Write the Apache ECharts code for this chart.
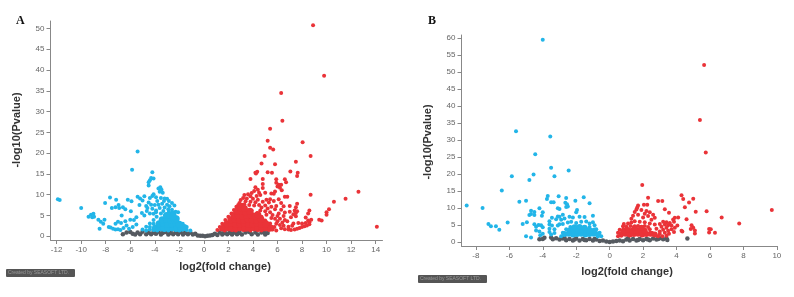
<!DOCTYPE html>
<html><head><meta charset="utf-8">
<style>html,body{margin:0;padding:0;background:#fff}#c{width:794px;height:297px;filter:blur(0.45px)}</style>
<script src="https://cdn.jsdelivr.net/npm/echarts@6/dist/echarts.min.js"></script>
</head><body><div id="c"></div>
<script>
const xTicksA=[-12,-10,-8,-6,-4,-2,0,2,4,6,8,10,12,14];
const yTicksA=[0,5,10,15,20,25,30,35,40,45,50];
const xTicksB=[-8,-6,-4,-2,0,2,4,6,8,10];
const yTicksB=[0,5,10,15,20,25,30,35,40,45,50,55,60];
const xName='log2(fold change)', yName='-log10(Pvalue)';

const aRed=[[8.9,50.8],[9.8,38.6],[6.3,34.5],[6.4,27.8],[5.4,25.9],[5.2,23],[8.05,22.6],[5.4,21.3],[5.65,20.9],[8.7,19.3],[4.95,19.3],[7.5,17.9],[4.7,17.5],[5.8,17.3],[7.05,15.6],[7.65,15.3],[5.2,15.4],[5.55,15.3],[4.2,15.3],[4.35,15.5],[4.25,15.1],[7.6,14.5],[4.8,13.8],[3.8,13.8],[5.9,13.7],[6.6,13.7],[6.7,13],[5.9,12.9],[4.8,12.6],[6.1,12.4],[6.3,12.4],[6,12],[6.2,11.7],[4.8,11.6],[6.35,11.1],[5,10.5],[12.6,10.7],[8.7,10],[5.5,10.3],[10.6,8.3],[11.55,9],[6.6,9.5],[6.8,9.5],[5.8,10.8],[5.7,10.2],[4.2,11.8],[4.4,11.2],[4.1,10.9],[4.5,10.5],[3.9,10.4],[3.6,10.1],[3.3,9.9],[3.8,9.6],[4.3,9.7],[4.6,9.9],[3.2,9.2],[3.5,9.1],[4,9],[4.4,8.8],[5.1,8.8],[5.4,8.9],[5.7,8.5],[6.1,8.9],[3,8.7],[3.4,8.4],[3.8,8.3],[4.2,8.2],[4.8,8.3],[5.3,8.1],[6.3,8],[7.6,7.8],[7.5,7],[7,7.3],[2.9,8],[3.3,7.7],[3.7,7.5],[4.1,7.4],[4.5,7.5],[5,7.4],[5.5,7.1],[5.9,7.3],[6.5,7.2],[4.7,6.9],[5.2,6.7],[5.8,6.5],[6.3,6.4],[7.4,6.2],[7.6,6],[8.6,6.2],[8.5,5.5],[10.2,6.5],[10,5.8],[10,5.2],[4.6,6.2],[5,6],[5.4,5.8],[6.1,5.5],[6.6,5.7],[7,5.9],[7.3,5.3],[7.5,5.6],[5.1,5.2],[5.6,5.1],[6,4.9],[6.5,4.9],[7.1,4.6],[7.5,4.8],[8.3,4.5],[5.5,4.4],[5.8,4.2],[6.2,4.2],[6.6,3.9],[6,3.6],[6.4,3.3],[6.8,3.6],[7.3,3.1],[7.7,3.2],[8,3.1],[8.3,3.2],[8.6,3.4],[8.75,4],[8.5,3.8],[9.4,4],[9.6,3.8],[14.1,2.3],[5.9,3],[6.2,2.7],[6.5,2.5],[6.9,2.3],[6.3,1.9],[6.6,1.7],[6.9,1.6],[7.1,1.5],[7.4,1.6],[7.6,1.8],[7.8,2],[8,2.2],[8.2,2.4],[8.4,2.6],[8.6,2.9],[7.2,2.5],
[1.1,1.5],[1.4,1.6],[1.7,1.4],[2,1.6],[2.3,1.5],[2.6,1.4],[2.9,1.6],[3.2,1.5],[3.5,1.6],[3.8,1.4],[4.1,1.6],[4.4,1.5],[4.7,1.4],[5,1.6],[5.3,1.5],[5.6,1.6],[5.9,1.4],
[1.3,2.2],[5.75,2.2],[1.5,3],[5.4,3.1],[1.75,3.9],[5,3.8],[2,4.7],[4.7,4.7],[2.25,5.5],[4.35,5.6],[2.45,6.3],[3.9,6.2],[2.65,7.1],[2.95,7.2],[3.3,7],[3.1,7.6],[2.8,7.5]];
const aRedCore=[[1.6,2],[1.95,2.1],[2.3,1.9],[2.65,2],[3,2.1],[3.35,1.9],[3.7,2],[4.05,2.1],[4.4,1.9],[4.75,2],[5.1,2.1],[5.45,2],
[1.9,3],[2.25,3.1],[2.6,2.9],[2.95,3],[3.3,3.1],[3.65,2.9],[4,3],[4.35,3.1],[4.7,2.9],[5.05,3],
[2.2,4],[2.55,4.1],[2.9,3.9],[3.25,4],[3.6,4.1],[3.95,3.9],[4.3,4],[4.65,4.1],
[2.45,5],[2.8,5.1],[3.15,4.9],[3.5,5],[3.85,5.1],[4.2,4.9],[4.4,5.2],
[2.7,6],[3.05,6.1],[3.4,5.9],[3.75,6],[3,6.8],[3.3,6.7]];

const aBlue=[[-5.4,20.4],[-5.85,16],[-4.2,15.4],[-4.3,14],[-4.1,13.9],[-4.4,13.5],[-4.5,13],[-4.5,12.2],[-11.9,8.9],[-11.75,8.7],[-10,6.8],[-9.4,4.7],[-9.2,5.2],[-9.1,4.6],[-9,5.4],[-8.95,4.7],[-8.6,4],[-8.4,3.5],[-8.2,3],[-8.1,4],[-8.5,1.8],[-8.05,8],[-7.65,9.3],[-7.15,8.8],[-7.5,6.8],[-7.2,7],[-6.95,7.5],[-6.9,6.8],[-6.6,7],[-6.4,6.5],[-6.2,8.8],[-5.9,8.4],[-5.95,6],[-6.7,5],[-7,3.5],[-7.2,3],[-6.75,3.2],[-6.4,3.6],[-6,4],[-5.7,3.9],[-5.5,4.6],[-7.75,2.2],[-7.6,2.1],[-7.4,1.8],[-7.2,1.6],[-7,1.7],[-6.8,1.5],[-6.55,2],[-6.3,2.6],[-6.1,1.8],[-5.8,2.2],[-5.5,2.8],[-5.4,9.5],[-5.2,9.1],[-5,8.6],[-4.85,9.6],[-5.25,7.5],[-4.7,7.3],[-4.65,6.1],[-5.05,5.6],[-4.85,5],[-4.1,10.1],[-4.2,9.7],[-3.9,9.4],[-3.7,11.5],[-3.55,11.8],[-3.45,11.2],[-3.6,10.7],[-3.35,10.5],[-3.8,8.5],[-3.5,9.2],[-3.2,9.1],[-3,9],[-3.25,8.5],[-2.85,8.5],[-2.6,8],[-2.4,7.4],[-4.4,9.2],[-4.5,8.1],[-4.3,7.6],[-4,7.5],[-3.7,7.6],[-3.4,7.8],[-3,7.6],[-2.8,7.2],[-4.6,6.8],[-4.2,6.6],[-3.9,6.2],[-3.6,6.8],[-3.2,6.9],[-2.9,6.5],[-2.6,6.4],[-4.4,5.5],[-4.1,5.4],[-3.9,5.8],[-2.1,5.8],[-2.3,5.9],
[-5,1.6],[-4.7,1.4],[-4.4,1.6],[-4.1,1.5],[-3.8,1.4],[-3.5,1.6],[-3.2,1.5],[-2.9,1.4],[-2.6,1.6],[-2.3,1.5],[-2,1.4],[-1.7,1.6],[-1.4,1.5],[-1.1,1.4],
[-4.7,2.3],[-4.4,2.2],[-1.4,2.2],[-4.4,3.1],[-4.1,3],[-1.72,3],[-4.1,3.9],[-3.85,4.7],[-3.5,5.5],[-2.42,5.5],[-3.3,6.1],[-2.85,5.9],[-2.55,5.8]];
const aBlueCore=[[-3.95,2],[-3.6,2.1],[-3.25,1.9],[-2.9,2],[-2.55,2.1],[-2.2,1.9],[-1.85,2],[-1.6,2.1],
[-3.65,3],[-3.3,3.1],[-2.95,2.9],[-2.6,3],[-2.25,3.1],[-2,2.9],
[-3.4,4],[-3.05,4.1],[-2.7,3.9],[-2.4,4],[-2.25,4.2],
[-3.05,5],[-2.75,5.1],[-2.5,4.9]];

const aGrey=[[-6.6,0.5],[-6.3,0.9],[-6,1],[-5.8,0.6],[-5.6,0.4],[-5.4,0.9],[-5.2,0.5],[-5,1.1],[-4.7,0.5],[-4.5,0.9],[-4.3,0.5],[-4.1,1.1],[-3.9,0.6],[-3.7,1.1],[-3.5,0.4],[-3.3,0.9],[-3.1,1],[-2.9,0.4],[-2.7,1],[-2.5,0.5],[-2.3,1.1],[-2.1,0.5],[-1.9,1],[-1.7,0.4],[-1.5,0.9],[-1.3,0.5],[-1.1,0.9],[-0.9,0.4],[-0.7,0.6],[-0.5,0.2],[-0.3,0.1],[-0.1,0.1],[0.1,0],[0.3,0.1],[0.5,0.2],[0.7,0.3],[0.9,0.6],[1.1,0.3],[1.3,0.9],[1.5,0.4],[1.7,1],[1.9,0.5],[2.1,1],[2.3,0.4],[2.5,0.9],[2.7,0.5],[2.9,1],[3.1,0.4],[3.4,0.9],[3.7,1],[3.9,0.5],[4.2,0.9],[4.4,0.4],[4.7,0.9],[5,0.4],[5.2,0.8],[-4,0.8],[-3.4,0.7],[-2.8,0.7],[-2.2,0.8],[-1.6,0.7],[1.6,0.7],[2.2,0.7],[2.8,0.7],[4.9,1]];

const bRed=[[5.65,52.1],[5.4,35.9],[5.75,26.4],[1.95,16.8],[4.3,13.8],[4.4,12.7],[5,12.8],[4.75,11.7],[2.3,13.1],[2.05,11],[2.25,11],[2.9,12.1],[3.15,12.1],[4.5,10.3],[3.3,9.7],[3.55,8.7],[5.15,9],[5.8,9.1],[9.7,9.5],[6.7,7.3],[7.75,5.5],[4.1,7.3],[3.9,7.2],[3.8,6.7],[4.6,6.8],[3.85,6],[4.9,5],[5,4.3],[4.85,3.9],[4.3,3.4],[4.35,3.2],[5.1,3.5],[5.1,2.6],[5.95,3.9],[6.05,3.8],[5.95,2.9],[6.3,2.8],[1.7,10.8],[1.65,10.2],[1.6,9.6],[1.9,9.5],[2.2,9.2],[2.4,8.8],[1.5,8.9],[1.7,8.1],[1.4,7.8],[2.1,8.4],[2.6,8.1],[2.3,7.7],[2.7,7.2],[2,7.3],[1.3,6.9],[2.5,6.6],[3.2,6],[3.4,5.9],[3.6,5.7],[3,5.4],[3.3,5.2],[3.5,5],[3.7,4.9],[3.9,4.3],[4.05,4.9],[3.1,4.6],[3.4,4.3],[3.7,3.8],[3.2,3.7],[3.5,3.4],[3,3.2],[3.3,2.8],[3.55,2.5],[3.85,3],[1.5,6.2],[1.8,6],[2.1,5.9],[2.4,5.5],[1.1,5.5],[0.85,5.4],[1.3,5.8],[2.7,5.2],[2.8,4],[3,2.4],
[0.5,1.8],[0.7,1.9],[2.9,1.8],[3.15,1.8],[3.4,1.9],[0.5,2.8],[2.55,2.7],[0.6,3.7],[2.4,3.8],[0.8,4.7],[1,4.6],[1.25,4.8],[1.5,4.7],[1.7,4.8],[1.9,4.6],[2.1,4.8],[2.3,4.5]];
const bRedCore=[[0.7,2.4],[0.95,2.5],[1.2,2.3],[1.45,2.4],[1.7,2.5],[1.95,2.3],[2.2,2.4],[2.45,2.5],[2.7,2.3],
[0.85,3.5],[1.1,3.6],[1.35,3.4],[1.6,3.5],[1.85,3.6],[2.1,3.4],[1.5,4.3],[1.9,4.2]];

const bBlue=[[-4,59.5],[-5.6,32.6],[-3.55,31.1],[-4.45,25.9],[-3.5,21.9],[-2.45,21.1],[-4.55,19.9],[-5.85,19.4],[-3.3,19.4],[-4.8,18.3],[-6.45,15.2],[-8.55,10.8],[-7.6,10.1],[-7.25,5.4],[-7.1,4.7],[-6.8,4.7],[-6.6,3.7],[-6.1,5.8],[-5.4,11.9],[-5,12.2],[-5.2,5.4],[-4.95,5.9],[-5,1.8],[-4.7,1.4],[-3.7,13.6],[-3.05,13.5],[-2.6,13],[-1.55,13.2],[-3.75,12.7],[-3.5,11.8],[-3.35,11.8],[-3.1,10],[-2.65,11.6],[-2.05,12.2],[-1.2,11.5],[-2.55,11.2],[-2.6,10.4],[-2.5,10.5],[-4.2,10],[-3,9.8],[-1.95,9.5],[-2,8.8],[-4.7,9.3],[-4.5,8.9],[-4.7,8.3],[-4.8,8],[-4.5,8],[-4,8.8],[-4.05,7.8],[-2.8,8.1],[-3.1,7.6],[-3,7.5],[-3.45,7.2],[-3.2,6.8],[-2.4,7.5],[-2.2,7.3],[-1.5,7.4],[-1,7.8],[-1.8,7.5],[-2.7,7],[-2.9,6.6],[-3.6,6.2],[-4.5,5.3],[-4.25,5.1],[-4.1,5],[-4.4,4.6],[-4,4.4],[-4.4,3.5],[-4.2,3.2],[-3.6,5.2],[-3.45,4.9],[-3.1,4.9],[-3.6,4],[-3.3,3.8],[-3.6,3],[-3.3,2.7],[-3.5,2.3],[-4.15,2.1],[-4,2.5],[-1.7,6],[-1.4,6.1],[-1.2,5.5],[-1,5.9],[-0.9,5],[-2.5,5.8],[-2.3,6],[-2,5.7],[-3,5.3],[-2.8,5.4],
[-2.9,1.8],[-0.7,1.7],[-0.5,1.8],[-2.8,2.8],[-0.6,2.8],[-2.6,3.8],[-0.8,3.8],[-2.35,4.5],[-1.2,4.5]];
const bBlueCore=[[-2.7,2.4],[-2.45,2.5],[-2.2,2.3],[-1.95,2.4],[-1.7,2.5],[-1.45,2.3],[-1.2,2.4],[-0.95,2.5],[-0.7,2.3],
[-2.4,3.5],[-2.15,3.6],[-1.9,3.4],[-1.65,3.5],[-1.4,3.6],[-1.15,3.4],[-0.9,3.5],
[-2.1,4.4],[-1.8,4.5],[-1.5,4.3]];

const bGrey=[[-4.2,0.9],[-4,1],[-3.9,1.3],[-3.5,1.4],[-3.4,0.9],[-3.2,1.2],[-3,0.8],[-2.8,1.1],[-2.6,0.6],[-2.4,1],[-2.2,0.5],[-2,1.1],[-1.8,0.5],[-1.6,1],[-1.4,0.6],[-1.2,1],[-1,0.5],[-0.8,0.8],[-0.6,0.4],[-0.4,0.5],[-0.2,0.2],[0,0.1],[0.2,0.2],[0.4,0.4],[0.6,0.5],[0.8,0.3],[1,0.8],[1.2,0.5],[1.4,1],[1.6,0.5],[1.8,1],[2,0.6],[2.2,1],[2.4,0.6],[2.6,1.1],[2.8,0.8],[3,1.2],[3.2,0.9],[3.4,1.2],[3.45,0.7],[4.65,1.1],[-2.7,1.3],[-2.1,0.8],[-1.5,0.7],[-0.9,1],[1.1,1.2],[1.7,0.7],[2.3,0.8],[2.9,1]];

const cBlue='#22b5e8', cRed='#ea3338', cGrey='#555a60';
const tickStyle={fontSize:8,color:'#666',fontFamily:'"Liberation Sans",Arial,sans-serif'};
function xAxis(i,min,max,ticks){return {gridIndex:i,type:'value',min,max,
  axisLine:{show:true,onZero:false,lineStyle:{color:'#888',width:1}},
  axisTick:{show:true,length:4,customValues:ticks,lineStyle:{color:'#888'}},
  axisLabel:Object.assign({margin:6,customValues:ticks,showMinLabel:true,showMaxLabel:true},tickStyle),
  splitLine:{show:false}};}
function yAxis(i,min,max,ticks){return {gridIndex:i,type:'value',min,max,
  axisLine:{show:true,onZero:false,lineStyle:{color:'#888',width:1}},
  axisTick:{show:true,length:4,customValues:ticks,lineStyle:{color:'#888'}},
  axisLabel:Object.assign({margin:6,customValues:ticks},tickStyle),
  splitLine:{show:false}};}
function sc(i,data,color,size){return {type:'scatter',xAxisIndex:i,yAxisIndex:i,data,symbolSize:size,
  silent:true,itemStyle:{color,opacity:1},animation:false};}
const heading=(text,left,top)=>({type:'text',left,top,style:{text,fontSize:12,fontWeight:'bold',fontFamily:'"Liberation Serif",serif',fill:'#111'}});
const axisTitle=(text,x,y,rot)=>({type:'text',x,y,rotation:rot,style:{text,align:'center',verticalAlign:'middle',fontSize:11,fontWeight:'bold',fontFamily:'"Liberation Sans",Arial,sans-serif',fill:'#333'}});
const credit=(x,y)=>[{type:'rect',shape:{x,y,width:69,height:8,r:1},style:{fill:'#555'}},
  {type:'text',x:x+2,y:y+4,style:{text:'Created by SEASOFT LTD.',verticalAlign:'middle',fontSize:5,fontFamily:'"Liberation Sans",Arial,sans-serif',fill:'#999'}}];

const chart=echarts.init(document.getElementById('c'),null,{renderer:'canvas'});
chart.setOption({
  animation:false,backgroundColor:'#fff',
  grid:[{left:50.5,top:21,width:332,height:219},{left:461.5,top:35,width:316,height:211}],
  xAxis:[xAxis(0,-12.5,14.56,xTicksA),xAxis(1,-8.86,10.04,xTicksB)],
  yAxis:[yAxis(0,-0.9,51.8,yTicksA),yAxis(1,-1.09,60.9,yTicksB)],
  series:[sc(0,aGrey,cGrey,4.5),sc(0,aBlue,cBlue,4),sc(0,aBlueCore,cBlue,7),sc(0,aRed,cRed,4),sc(0,aRedCore,cRed,7),
          sc(1,bGrey,cGrey,4.5),sc(1,bBlue,cBlue,4),sc(1,bBlueCore,cBlue,6),sc(1,bRed,cRed,4),sc(1,bRedCore,cRed,6)],
  graphic:[heading('A',16,15),heading('B',428,15),
    axisTitle(xName,225,267,0),axisTitle(yName,17,130,Math.PI/2),
    axisTitle(xName,627,272,0),axisTitle(yName,428,142,Math.PI/2),
    ...credit(6,269),...credit(418,275)]
});
</script></body></html>
